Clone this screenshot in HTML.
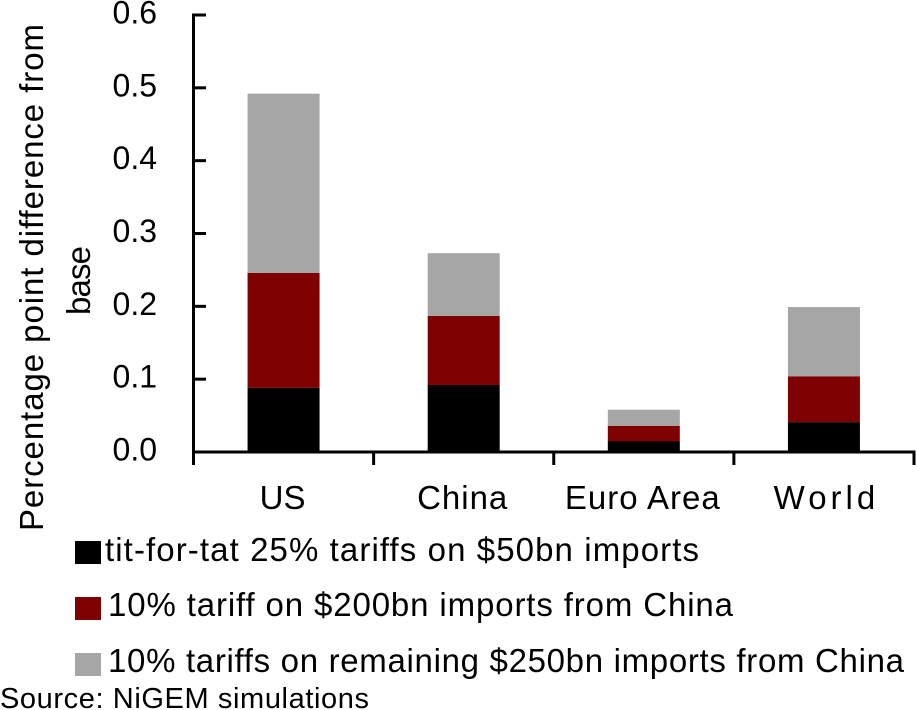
<!DOCTYPE html>
<html lang="en">
<head>
<meta charset="utf-8">
<title>Tariff simulation chart</title>
<style>
html,body{margin:0;padding:0;background:#fff;width:917px;height:710px;overflow:hidden}
svg{display:block}
text{font-family:"Liberation Sans",sans-serif;fill:#000}
</style>
</head>
<body>
<svg id="chart" xmlns="http://www.w3.org/2000/svg" width="917" height="710" viewBox="0 0 917 710">
  <rect x="0" y="0" width="917" height="710" fill="#fff"/>
  <g id="bars"></g>
  <g id="axes"></g>
  <text transform="translate(43,531) rotate(-90)" font-size="33" textLength="507" lengthAdjust="spacing">Percentage point difference from</text>
  <text transform="translate(90,315) rotate(-90)" font-size="33" textLength="69" lengthAdjust="spacing">base</text>
  <g>
    <rect x="75" y="541" width="26" height="23" fill="#000"/>
    <text x="105" y="561" font-size="33" textLength="594" lengthAdjust="spacing">tit-for-tat 25% tariffs on $50bn imports</text>
    <rect x="75" y="597" width="26" height="23" fill="#7f0000"/>
    <text x="108" y="616" font-size="33" textLength="625" lengthAdjust="spacing">10% tariff on $200bn imports from China</text>
    <rect x="75" y="653" width="26" height="23" fill="#a6a6a6"/>
    <text x="108" y="672" font-size="33" textLength="796" lengthAdjust="spacing">10% tariffs on remaining $250bn imports from China</text>
  </g>
  <text x="0" y="708" font-size="29" textLength="369" lengthAdjust="spacing">Source: NiGEM simulations</text>
</svg>
<script>
const categories = ["US", "China", "Euro Area", "World"];
const titForTat = [0.088, 0.092, 0.015, 0.041];
const tariff200 = [0.158, 0.095, 0.021, 0.063];
const tariff250 = [0.246, 0.086, 0.022, 0.095];
const yTickValues = [0, 0.1, 0.2, 0.3, 0.4, 0.5, 0.6];
const yTickLabels = ["0.0", "0.1", "0.2", "0.3", "0.4", "0.5", "0.6"];

const NS = "http://www.w3.org/2000/svg";
const plotLeft = 193.5, plotRight = 914, plotBottom = 452, plotTop = 15, yMax = 0.6, barWidth = 72;
function yScale(v) { return plotBottom - (v / yMax) * (plotBottom - plotTop); }
function bandWidth() { return (plotRight - plotLeft) / categories.length; }
function xCenter(i) { return plotLeft + bandWidth() * (i + 0.5); }
function make(tag, attrs, parent) {
  const el = document.createElementNS(NS, tag);
  for (const k in attrs) el.setAttribute(k, attrs[k]);
  parent.appendChild(el);
  return el;
}
const barsG = document.getElementById("bars");
const axesG = document.getElementById("axes");
const seriesList = [
  { key: "tit-for-tat", values: titForTat, color: "#000" },
  { key: "200bn", values: tariff200, color: "#7f0000" },
  { key: "250bn", values: tariff250, color: "#a6a6a6" }
];
function labelSpacing(cat) {
  if (cat === "World") return 4;
  if (cat === "US") return 0;
  return 1;
}
function labelShift(cat) {
  if (cat === "World") return 2.5;
  return -1;
}
categories.forEach(function (cat, i) {
  let base = 0;
  seriesList.forEach(function (s) {
    const top = base + s.values[i];
    const r = make("rect", {
      x: xCenter(i) - barWidth / 2,
      y: yScale(top),
      width: barWidth,
      height: yScale(base) - yScale(top),
      fill: s.color
    }, barsG);
    
    
    base = top;
  });
  const label = make("text", {
    x: xCenter(i) + labelShift(cat),
    y: 509,
    "font-size": 33,
    "text-anchor": "middle",
    "letter-spacing": labelSpacing(cat)
  }, axesG);
  label.textContent = cat;
  
  
});
const yAxis = make("line", { x1: plotLeft, x2: plotLeft, y1: plotTop - 1.5, y2: 465, stroke: "#000", "stroke-width": 3 }, axesG);


const xAxis = make("line", { x1: plotLeft, x2: plotRight + 1.5, y1: plotBottom, y2: plotBottom, stroke: "#000", "stroke-width": 3 }, axesG);


yTickValues.forEach(function (v, i) {
  const y = yScale(v);
  if (v > 0) {
    const t = make("line", { x1: plotLeft, x2: 206, y1: y, y2: y, stroke: "#000", "stroke-width": 3 }, axesG);
    
    
  }
  const lab = make("text", { x: 157, y: y + 8.5, "font-size": 32, "text-anchor": "end" }, axesG);
  lab.textContent = yTickLabels[i];
  
  
});
for (let i = 1; i <= categories.length; i++) {
  const x = plotLeft + bandWidth() * i;
  const t = make("line", { x1: x, x2: x, y1: plotBottom, y2: 465, stroke: "#000", "stroke-width": 3 }, axesG);
  
  
}
</script>
</body>
</html>
